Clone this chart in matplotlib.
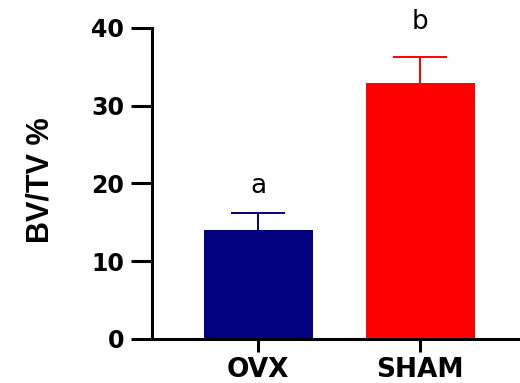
import matplotlib
matplotlib.use("Agg")
import matplotlib.pyplot as plt

# Bone volume fraction per group
groups = ["OVX", "SHAM"]
bv_tv = [14.0, 32.9]
sem_upper = [2.2, 3.4]
letters = ["a", "b"]
letter_y = [19.7, 40.8]
bar_colors = ["#000080", "#FF0000"]
yticks = [0, 10, 20, 30, 40]

fig = plt.figure(figsize=(5.2, 3.83), dpi=100)
ax = fig.add_axes([0.292, 0.115, 0.708, 0.812])

x = list(range(len(groups)))
ax.bar(x, bv_tv, width=0.673, color=bar_colors, zorder=2)
for xi, v, e, c in zip(x, bv_tv, sem_upper, bar_colors):
    # upper-only error bar; drop the cap sitting on the bar top
    _, caps, _ = ax.errorbar(xi, v, yerr=[[0], [e]], color=c, elinewidth=1.4,
                             capsize=19.5, capthick=1.4, zorder=1)
    caps[0].set_visible(False)

for xi, t, ly in zip(x, letters, letter_y):
    ax.text(xi, ly, t, ha="center", va="center", fontsize=19,
            family="DejaVu Sans", clip_on=False)

ax.set_xlim(-0.657, 1.615)
ax.set_ylim(0, 40)
ax.set_yticks(yticks)
ax.set_xticks(x)
ax.set_xticklabels(groups)

for s in ["top", "right"]:
    ax.spines[s].set_visible(False)
for s in ["left", "bottom"]:
    ax.spines[s].set_linewidth(2.2)

ax.tick_params(axis="y", length=15, width=2.2, pad=5, labelsize=17)
ax.tick_params(axis="x", length=9, width=2.2, pad=4, labelsize=19)
for lab in ax.get_yticklabels() + ax.get_xticklabels():
    lab.set_fontweight("bold")
    lab.set_family("DejaVu Sans")

ax.set_ylabel("BV/TV %", fontsize=22, fontweight="bold",
              family="Liberation Sans")
ax.yaxis.set_label_coords(-0.262, 0.51)

fig.savefig("out.png", dpi=100)
